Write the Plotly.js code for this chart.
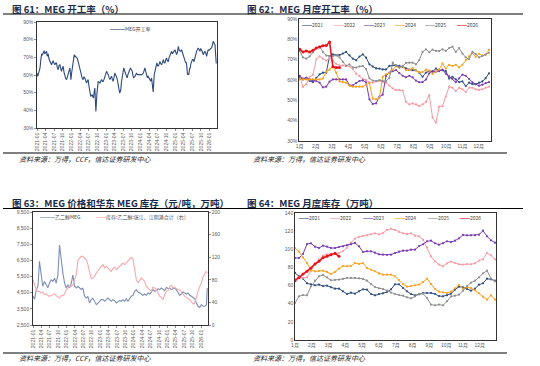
<!DOCTYPE html>
<html><head><meta charset="utf-8">
<script src="https://cdn.plot.ly/plotly-3.0.1.min.js"></script>
<style>html,body{margin:0;padding:0;background:#fff}#chart{width:540px;height:366px}</style>
</head><body><div id="chart"></div>
<script>
// ---------- Chart 61: MEG operating rate (weekly, %) ----------
const dates61 = ['2021-01-01','2021-01-08','2021-01-15','2021-01-22','2021-02-02','2021-02-12','2021-02-20','2021-03-01','2021-03-07','2021-03-17','2021-03-25','2021-04-01','2021-04-12','2021-04-19','2021-04-29','2021-05-08','2021-05-16','2021-05-25','2021-06-04','2021-06-12','2021-06-21','2021-07-01','2021-07-09','2021-07-18','2021-07-26','2021-08-04','2021-08-13','2021-08-22','2021-09-01','2021-09-10','2021-09-18','2021-09-27','2021-10-05','2021-10-14','2021-10-23','2021-11-01','2021-11-10','2021-11-19','2021-11-28','2021-12-06','2021-12-15','2021-12-22','2021-12-26','2022-01-02','2022-01-09','2022-01-20','2022-01-30','2022-02-06','2022-02-13','2022-02-22','2022-03-02','2022-03-12','2022-03-21','2022-03-30','2022-04-08','2022-04-16','2022-04-25','2022-05-04','2022-05-13','2022-05-22','2022-05-31','2022-06-08','2022-06-17','2022-06-26','2022-07-05','2022-07-13','2022-07-24','2022-08-01','2022-08-08','2022-08-15','2022-08-22','2022-08-29','2022-09-05','2022-09-10','2022-09-16','2022-09-26','2022-10-03','2022-10-10','2022-10-19','2022-10-28','2022-11-06','2022-11-15','2022-11-24','2022-12-02','2022-12-11','2022-12-20','2022-12-29','2023-01-07','2023-01-16','2023-01-25','2023-02-03','2023-02-12','2023-02-21','2023-03-01','2023-03-09','2023-03-17','2023-03-26','2023-04-04','2023-04-12','2023-04-21','2023-04-30','2023-05-09','2023-05-18','2023-05-26','2023-06-06','2023-06-13','2023-06-20','2023-06-29','2023-07-08','2023-07-16','2023-07-25','2023-08-04','2023-08-13','2023-08-22','2023-08-31','2023-09-08','2023-09-17','2023-09-26','2023-10-05','2023-10-12','2023-10-19','2023-11-02','2023-11-11','2023-11-20','2023-11-29','2023-12-07','2023-12-16','2023-12-25','2024-01-03','2024-01-12','2024-01-21','2024-01-30','2024-02-08','2024-02-17','2024-02-25','2024-03-04','2024-03-13','2024-03-22','2024-03-31','2024-04-09','2024-04-18','2024-04-27','2024-05-06','2024-05-14','2024-05-25','2024-06-01','2024-06-08','2024-06-15','2024-06-22','2024-06-29','2024-07-06','2024-07-15','2024-07-24','2024-08-02','2024-08-11','2024-08-20','2024-08-29','2024-09-07','2024-09-15','2024-09-24','2024-10-03','2024-10-12','2024-10-21','2024-10-30','2024-11-07','2024-11-16','2024-11-25','2024-12-04','2024-12-12','2024-12-21','2024-12-30','2025-01-08','2025-01-17','2025-01-26','2025-02-04','2025-02-13','2025-02-22','2025-03-02','2025-03-10','2025-03-19','2025-03-28','2025-04-05','2025-04-14','2025-04-22','2025-05-01','2025-05-06','2025-05-12','2025-05-19','2025-05-26','2025-06-03','2025-06-10','2025-06-17','2025-06-24','2025-07-03','2025-07-11','2025-07-20','2025-07-29','2025-08-07','2025-08-16','2025-08-25','2025-09-03','2025-09-11','2025-09-20','2025-09-29','2025-10-08','2025-10-17','2025-10-25','2025-11-03','2025-11-12','2025-11-21','2025-11-30','2025-12-08','2025-12-17','2025-12-26','2026-01-05','2026-01-13','2026-01-22','2026-01-31','2026-02-09','2026-02-18','2026-02-27','2026-03-05','2026-03-12'];
const rate61 = [61.1,59.2,60.5,62.1,64.0,69.6,72.0,71.5,72.8,73.8,72.0,72.5,73.4,70.6,72.0,69.0,67.7,66.5,65.8,67.0,68.1,66.5,65.8,66.8,66.8,64.0,63.0,65.5,65.8,63.5,62.1,64.0,64.9,61.5,59.2,58.0,57.4,59.5,61.1,62.5,64.0,60.0,57.4,61.0,64.0,68.5,71.5,70.2,70.6,69.8,69.6,67.7,65.5,63.0,61.0,59.2,58.0,57.4,59.0,58.3,56.8,55.5,56.5,57.4,53.5,49.8,47.9,48.5,48.9,47.5,47.0,50.5,52.6,46.0,39.4,48.9,53.5,56.4,56.0,55.5,56.5,57.4,56.4,56.4,57.5,59.2,60.5,62.1,61.0,60.2,58.5,57.4,58.5,59.2,57.5,56.4,58.5,61.1,60.0,59.2,57.5,55.5,52.0,49.8,51.5,56.0,59.2,62.0,64.0,62.5,61.1,60.0,58.3,60.5,62.1,63.5,64.0,63.0,62.1,60.0,58.3,59.2,60.5,61.1,60.2,60.2,60.0,59.8,60.0,60.2,60.5,61.1,62.5,64.0,62.0,60.2,58.5,59.2,58.0,57.4,56.5,58.3,55.0,50.4,60.2,62.5,64.0,65.5,66.8,65.5,64.9,66.0,67.7,66.5,65.8,67.0,68.7,67.0,66.8,68.5,69.6,68.0,67.7,70.0,71.5,72.5,73.4,72.0,72.5,73.5,74.3,73.0,71.5,73.0,76.2,74.0,73.4,73.5,74.3,72.5,71.5,70.0,68.7,67.0,66.8,63.0,60.2,60.5,60.2,63.5,64.0,66.5,67.7,68.7,68.7,67.5,69.6,72.0,73.4,74.5,75.3,74.5,73.4,75.0,74.3,73.0,71.5,72.5,73.4,72.5,70.6,72.5,74.3,74.0,74.3,75.0,75.3,77.0,79.1,78.0,77.2,72.0,66.5];

// ---------- Chart 62: MEG seasonal operating rate by year (%) ----------
const monthLabels = ['1月','2月','3月','4月','5月','6月','7月','8月','9月','10月','11月','12月'];
const years = ['2021','2022','2023','2024','2025','2026'];
const rate2021 = [61.1,60.3,61.1,59.5,59.0,61.1,62.8,63.6,63.6,71.8,72.6,72.3,72.3,73.0,73.8,72.1,70.5,69.7,71.5,72.6,71.0,67.7,66.6,65.7,65.6,65.2,65.2,66.9,67.2,67.2,66.9,66.4,65.7,65.1,64.8,64.8,63.6,61.6,63.6,64.4,64.1,65.6,64.9,64.8,64.4,60.7,61.6,60.3,59.0,59.3,57.0,58.7,58.0,57.9,58.7,59.3,60.9,63.3];
const rate2022 = [62.0,56.6,57.9,61.6,62.6,70.2,71.6,70.5,69.5,70.8,69.5,67.9,67.2,67.2,66.9,66.6,65.4,63.1,62.0,60.5,60.0,58.9,58.7,59.3,59.5,59.0,58.7,57.2,55.9,55.1,55.1,54.8,49.2,48.0,48.5,48.0,47.2,48.0,49.2,52.6,41.5,39.0,46.9,47.2,51.8,56.7,56.2,54.6,56.1,55.4,54.1,56.2,56.2,55.4,55.1,55.4,56.2,56.7];
const rate2023 = [62.0,60.7,61.1,60.3,59.5,59.5,58.7,56.4,56.7,59.2,60.3,60.3,60.3,60.3,60.3,57.4,57.4,58.5,59.5,59.8,58.9,50.5,48.2,48.5,51.8,52.8,62.0,63.6,64.3,64.9,63.4,62.1,61.3,62.1,61.3,59.7,58.9,59.0,60.2,63.3,64.4,64.1,64.4,65.1,63.1,61.8,60.5,58.9,60.8,62.6,62.1,60.5,58.9,58.0,57.2,57.7,58.5,59.0];
const rate2024 = [60.3,60.3,60.3,60.3,60.5,60.3,60.3,60.7,64.1,65.1,66.9,63.6,59.3,59.0,58.7,57.2,56.7,56.7,56.7,56.7,57.7,58.5,50.8,50.5,51.1,61.6,62.8,63.4,65.1,66.7,66.1,66.7,64.8,64.9,65.9,64.6,63.8,63.9,65.1,64.6,63.0,64.3,65.2,68.2,65.6,67.5,66.9,67.5,66.2,67.5,69.8,71.6,73.3,71.3,72.9,72.0,72.5,74.8];
const rate2025 = [74.3,71.1,70.5,71.6,73.6,75.7,76.4,73.8,72.0,71.8,71.8,72.1,71.1,68.9,67.0,67.7,66.2,66.1,66.7,66.9,65.4,60.8,59.7,59.5,60.0,59.5,59.5,61.0,68.5,67.0,66.1,66.9,68.4,68.5,68.5,67.7,69.8,73.8,75.1,73.6,74.9,74.3,74.3,75.1,74.3,75.7,76.4,73.8,75.7,73.0,71.1,70.2,73.8,72.8,71.1,71.8,72.5,73.4];
const rate2026 = [75.1,73.8,74.3,73.8,74.6,75.7,76.2,76.9,77.0,78.7,66.5,66.1,66.1];

// ---------- Chart 63: MEG price (元/吨) and East China inventory (万吨) ----------
const dates63 = ['2021-01-01','2021-01-19','2021-02-06','2021-02-24','2021-03-12','2021-03-30','2021-04-17','2021-05-06','2021-05-24','2021-06-11','2021-06-29','2021-07-17','2021-08-05','2021-08-23','2021-09-10','2021-09-28','2021-10-16','2021-11-04','2021-11-22','2021-12-10','2021-12-28','2022-01-16','2022-02-03','2022-02-21','2022-03-10','2022-03-28','2022-04-15','2022-05-03','2022-05-21','2022-06-08','2022-06-26','2022-07-14','2022-08-02','2022-08-20','2022-09-07','2022-09-25','2022-10-13','2022-11-01','2022-11-19','2022-12-07','2022-12-25','2023-01-13','2023-02-01','2023-02-19','2023-03-07','2023-03-25','2023-04-12','2023-04-30','2023-05-18','2023-06-06','2023-06-24','2023-07-12','2023-07-30','2023-08-17','2023-09-05','2023-09-23','2023-10-11','2023-10-29','2023-11-16','2023-12-04','2023-12-22','2024-01-10','2024-01-28','2024-02-15','2024-03-04','2024-03-22','2024-04-09','2024-04-27','2024-05-15','2024-06-02','2024-06-20','2024-07-08','2024-07-26','2024-08-14','2024-09-02','2024-09-20','2024-10-08','2024-10-26','2024-11-13','2024-12-01','2024-12-19','2025-01-07','2025-01-25','2025-02-12','2025-03-01','2025-03-19','2025-04-06','2025-04-24','2025-05-12','2025-05-30','2025-06-17','2025-07-06','2025-07-24','2025-08-11','2025-08-29','2025-09-17','2025-10-05','2025-10-23','2025-11-10','2025-11-28','2025-12-16','2026-01-04','2026-01-22','2026-02-09','2026-02-27','2026-03-08'];
const price63 = [4300,4100,4700,4900,6450,5700,4900,5200,5000,4800,5100,5300,5200,5400,5100,5600,7450,6350,5700,5100,4800,5000,4800,5100,5600,4900,4800,4900,4800,4700,4800,4300,4170,4280,3860,4070,4170,3970,3760,3860,3970,4070,4070,3970,4070,4170,4070,3970,4070,4010,3860,3920,4010,3970,4070,3970,4130,3970,4170,4280,4340,4590,4690,4540,4480,4380,4340,4420,4340,4480,4420,4540,4690,4590,4630,4750,4690,4790,4690,4630,4830,4750,4790,4690,4750,4790,4690,4540,4340,4420,4540,4480,4420,4480,4340,4280,4210,4130,3860,3660,3590,3760,3660,3660,3760,4790];
const inv63 = [80,70,62.5,59.6,59.6,56.6,58,53.7,55,52,50.7,52,53.7,55,52,49,47.8,52,52,55,62.5,65.5,68.4,68.4,71.4,80.2,89,112.7,118.6,121.5,121.5,118.6,115.6,106.8,92,82,83.2,86.1,92,96.2,100.9,103.8,106.8,100.9,103.8,100.9,97.9,95,99.7,102.1,97.9,100.9,103.8,106.8,109.7,106.8,109.7,112.7,115.6,119.8,117.4,100.9,80.2,74.3,78.5,83.2,80.2,77.3,68.4,65.5,62.5,59.6,66.7,65.5,62.5,56.6,50.7,49,44.8,53.7,59.6,60.8,68.4,70.2,65.5,66.7,64.3,62.5,62.5,59.6,54.9,50.7,49,46.6,44.8,40.7,37.2,38.9,50.7,59.6,68.4,74.3,86.1,92,95,92];

// ---------- Chart 64: MEG seasonal inventory by year (万吨) ----------
const inv2021 = [73.9,70.2,67.6,62.5,61.4,60.3,61.0,59.5,59.9,58.1,56.6,56.6,53.7,50.7,52.2,51.1,53.7,55.9,55.5,50.7,49.2,50.7,51.5,52.9,55.9,61.4,61.4,57.3,53.7,50.7,49.2,50.3,51.8,51.8,51.8,50.7,48.5,48.1,49.2,51.1,55.5,58.8,58.1,56.2,54.4,56.6,61.0,62.5,67.6,66.9,65.4];
const inv2022 = [67.3,69.5,68.4,69.1,76.4,84.2,88.6,93.0,94.4,94.8,95.2,95.9,98.1,101.4,107.3,111.7,113.6,114.7,115.4,116.5,117.6,116.5,118.0,121.3,122.7,121.3,119.1,117.6,116.9,117.6,115.0,114.3,110.6,102.2,92.2,86.7,83.1,81.2,84.5,86.4,84.9,83.4,83.1,83.8,83.4,84.5,87.5,88.9,95.9,93.3,88.9];
const inv2023 = [90.4,90.4,94.8,105.8,106.6,102.9,101.4,104.0,102.9,101.4,101.4,102.5,103.3,104.4,105.5,107.0,103.3,97.0,97.8,97.8,96.3,94.4,94.1,93.7,94.1,95.9,97.4,98.5,98.5,99.6,99.6,103.6,105.5,108.8,109.5,106.6,105.1,106.6,108.8,108.0,109.5,112.1,115.8,115.4,115.4,115.4,116.1,120.5,114.3,109.9,107.3];
const inv2024 = [101.4,97.4,91.1,84.9,76.8,75.7,76.1,76.4,75.0,72.8,75.0,78.6,81.6,81.2,81.6,84.9,83.8,84.9,79.4,77.5,75.7,73.1,72.0,72.0,72.0,70.2,66.1,61.7,58.8,59.5,60.3,61.0,63.9,67.6,61.7,56.2,53.3,52.6,51.8,53.3,57.0,60.6,56.6,58.1,57.3,54.8,51.5,47.8,44.5,49.2,44.5];
const inv2025 = [40.8,48.1,49.6,49.2,59.2,65.4,70.2,71.7,69.1,65.8,66.2,66.5,67.3,68.4,68.4,68.4,68.0,67.3,65.4,61.7,58.4,57.0,56.2,54.4,52.2,50.7,49.6,48.9,47.0,45.9,48.1,50.7,51.1,46.3,39.0,38.2,39.0,38.2,42.6,48.1,48.9,50.0,54.4,59.5,63.2,65.4,69.1,73.5,76.4,67.6,64.7];
const inv2026 = [65.4,68.7,72.8,75.7,79.4,83.8,86.7,90.8,92.2,94.1,95.6,92.2];

// ---------- styling ----------
const yearColors = ['#2F4E80','#F59CA3','#7A3BB0','#F7A11E','#8F8F8F','#E8141C'];
const CJK = '"Noto Sans CJK SC", "Liberation Sans", sans-serif';
const TICK = {family: '"Liberation Sans", "Noto Sans CJK SC", sans-serif', size: 5, color: '#595959'};
const W = 540, H = 366;
const px = v => v / W, py = v => 1 - v / H;

function ax(extra) {
  return Object.assign({showgrid:false, zeroline:false, showline:true, linecolor:'#000', linewidth:0.8,
    mirror:true, ticks:'outside', ticklen:2, tickcolor:'#444', tickwidth:0.6, tickfont:TICK,
    automargin:false, fixedrange:true}, extra);
}
const idx = arr => arr.map((_, i) => i);

const traces = [];
traces.push({x: dates61, y: rate61, xaxis:'x', yaxis:'y', mode:'lines', line:{color:'#2E4A7D', width:1.1}, showlegend:false});

const seasonal62 = [rate2021, rate2022, rate2023, rate2024, rate2025, rate2026];
seasonal62.forEach((arr, i) => {
  const isLast = i === 5;
  traces.push({x: idx(arr), y: arr, xaxis:'x2', yaxis:'y2', mode:'lines+markers',
    line:{color: yearColors[i], width: isLast ? 1.6 : 1}, marker:{size: isLast ? 3 : 2.2, color: yearColors[i]}, showlegend:false});
});

traces.push({x: dates63, y: price63, xaxis:'x3', yaxis:'y3', mode:'lines', line:{color:'#7D8FB6', width:1.1}, showlegend:false});
traces.push({x: dates63, y: inv63, xaxis:'x3', yaxis:'y5', mode:'lines', line:{color:'#F8A9AC', width:1.1}, showlegend:false});

const seasonal64 = [inv2021, inv2022, inv2023, inv2024, inv2025, inv2026];
seasonal64.forEach((arr, i) => {
  const isLast = i === 5;
  traces.push({x: idx(arr), y: arr, xaxis:'x4', yaxis:'y4', mode:'lines+markers',
    line:{color: yearColors[i], width: isLast ? 1.6 : 1}, marker:{size: isLast ? 3 : 2.2, color: yearColors[i]}, showlegend:false});
});

const tick62 = monthLabels.map((_, i) => i * 4.9);
const tick64 = monthLabels.map((_, i) => i * 4.2);

const layout = {
  width: W, height: H, margin:{l:0, r:0, t:0, b:0}, paper_bgcolor:'#fff', plot_bgcolor:'#fff',
  showlegend:false, font:{family: CJK, color:'#333'},
  xaxis: ax({domain:[px(37), px(217)], anchor:'y', type:'date', range:['2021-01-01','2026-03-20'],
    tickformat:'%Y-%m', dtick:'M3', tick0:'2021-01-01', tickangle:-90}),
  yaxis: ax({domain:[py(128), py(22)], anchor:'x', range:[30,90], dtick:10, ticksuffix:'%'}),
  xaxis2: ax({domain:[px(299), px(491)], anchor:'y2', range:[-0.2, 57.6], tickvals: tick62, ticktext: monthLabels, ticks:''}),
  yaxis2: ax({domain:[py(141), py(19)], anchor:'x2', range:[30,90], dtick:10, ticksuffix:'%', ticks:''}),
  xaxis3: ax({domain:[px(33), px(208)], anchor:'y3', type:'date', range:['2021-01-01','2026-03-16'],
    tickformat:'%Y-%m', dtick:'M3', tick0:'2021-01-01', tickangle:-90}),
  yaxis3: ax({domain:[py(325), py(212)], anchor:'x3', range:[2500,9500], tick0:2500, dtick:1000, tickformat:',d', mirror:false}),
  yaxis5: ax({overlaying:'y3', anchor:'x3', side:'right', range:[0,200], dtick:40, mirror:false}),
  xaxis4: ax({domain:[px(295), px(496)], anchor:'y4', range:[0, 50.25], tickvals: tick64, ticktext: monthLabels, ticks:''}),
  yaxis4: ax({domain:[py(340), py(213)], anchor:'x4', range:[0,140], dtick:20, ticks:''}),
  shapes: [
    {type:'line', xref:'paper', yref:'paper', x0:px(3), x1:px(523), y0:py(14), y1:py(14), line:{color:'#000', width:1.2}},
    {type:'line', xref:'paper', yref:'paper', x0:px(3), x1:px(507), y0:py(153), y1:py(153), line:{color:'#000', width:1.2}},
    {type:'line', xref:'paper', yref:'paper', x0:px(3), x1:px(523), y0:py(208.5), y1:py(208.5), line:{color:'#000', width:1.2}},
    {type:'line', xref:'paper', yref:'paper', x0:px(3), x1:px(507), y0:py(353), y1:py(353), line:{color:'#000', width:1.2}}
  ],
  annotations: []
};

function note(text, x, y, size, extra) {
  layout.annotations.push(Object.assign({text, xref:'paper', yref:'paper', x: px(x), y: py(y),
    xanchor:'left', yanchor:'middle', showarrow:false, font:{family: CJK, size, color:'#1B2A48'}}, extra || {}));
}
// titles
note('<b>图 61：MEG 开工率（%）</b>', 10, 9, 9.5);
note('<b>图 62：MEG 月度开工率（%）</b>', 245, 9, 9.5);
note('<b>图 63：MEG 价格和华东 MEG 库存（元/吨，万吨）</b>', 10, 202.5, 9.5);
note('<b>图 64：MEG 月度库存（万吨）</b>', 245, 202.5, 9.5);
// sources
note('<i>资料来源：万得，CCF，信达证券研发中心</i>', 17, 158.5, 7, {font:{family:CJK, size:7, color:'#222'}});
note('<i>资料来源：万得，信达证券研发中心</i>', 251, 158.5, 7, {font:{family:CJK, size:7, color:'#222'}});
note('<i>资料来源：万得，CCF，信达证券研发中心</i>', 17, 358, 7, {font:{family:CJK, size:7, color:'#222'}});
note('<i>资料来源：万得，信达证券研发中心</i>', 251, 358, 7, {font:{family:CJK, size:7, color:'#222'}});

// legends
const LG = {family: CJK, size: 5, color:'#444'};
function legendItem(color, label, x, y, n) {
  note('<span style="color:' + color + '">' + '━'.repeat(n || 2) + '</span>' + label, x, y, 5, {font: LG});
}
legendItem('#2E4A7D', 'MEG开工率', 108, 29, 3);
const lx62 = [300, 332, 362, 393, 423, 455];
years.forEach((yr, i) => legendItem(yearColors[i], yr, lx62[i], 24.5));
legendItem('#7D8FB6', '乙二醇MEG', 38, 217, 3);
legendItem('#F8A9AC', '库存:乙二醇:张江、江阴港合计（右）', 94, 217, 2);
const lx64 = [297, 328, 361, 393, 426, 458];
years.forEach((yr, i) => legendItem(yearColors[i], yr, lx64[i], 217));

Plotly.newPlot('chart', traces, layout, {staticPlot:true, displayModeBar:false});
</script>
</body></html>
